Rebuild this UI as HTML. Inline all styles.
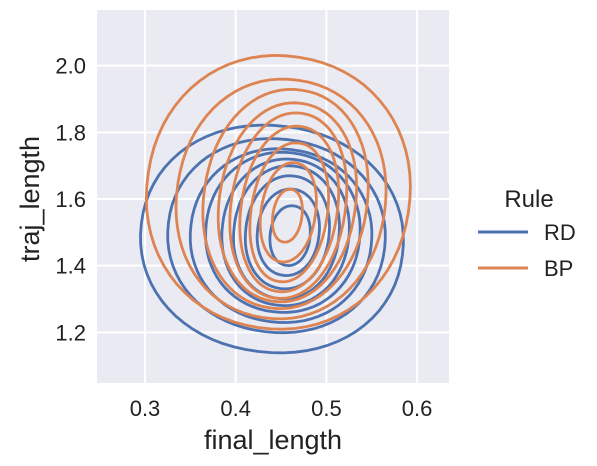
<!DOCTYPE html>
<html><head><meta charset="utf-8"><style>
body{margin:0;background:#fff;}
svg{display:block;font-family:"Liberation Sans","DejaVu Sans",sans-serif;}
</style></head><body>
<svg id="chart" width="597" height="466">
<rect x="97" y="10" width="352" height="373" fill="#eaeaf2"/>
<g id="grid"></g>
<g id="contours"></g>
<g id="ticks"></g>
<text x="273" y="449" font-size="27" text-anchor="middle" fill="#222">final_length</text>
<text x="0" y="0" font-size="27" text-anchor="middle" fill="#222" transform="translate(39,199) rotate(-90)">traj_length</text>
<g>
<text x="529" y="207" font-size="24" text-anchor="middle" fill="#222">Rule</text>
<g><line x1="478" y1="232" x2="528" y2="232" stroke="#4c72b0" stroke-width="3"/><text x="544" y="240" font-size="22" fill="#222">RD</text></g>
<g><line x1="478" y1="268" x2="528" y2="268" stroke="#dd8452" stroke-width="3"/><text x="544" y="276" font-size="22" fill="#222">BP</text></g>
</g>
</svg>
<script>
const xTicks=[0.3,0.4,0.5,0.6];
const yTicks=[1.2,1.4,1.6,1.8,2.0];
const rdLevels=[[0.44,1.48,0.145,0.34],[0.445,1.49,0.12,0.29],[0.45,1.49,0.1,0.26],[0.452,1.5,0.085,0.24],[0.455,1.5,0.07,0.22],[0.456,1.5,0.058,0.2],[0.457,1.5,0.046,0.17],[0.458,1.5,0.034,0.13],[0.46,1.49,0.022,0.09]];
const bpLevels=[[0.447,1.62,0.145,0.41],[0.45,1.6,0.115,0.36],[0.455,1.6,0.09,0.33],[0.457,1.59,0.075,0.3],[0.458,1.58,0.063,0.28],[0.459,1.57,0.053,0.25],[0.459,1.56,0.042,0.21],[0.458,1.56,0.03,0.15],[0.457,1.55,0.016,0.08]];
const NS="http://www.w3.org/2000/svg";
function sx(v){return 145+(v-0.3)*907;}
function sy(v){return 199-(v-1.6)*333.3;}
const grid=document.getElementById('grid'),ticks=document.getElementById('ticks'),cont=document.getElementById('contours');
xTicks.forEach(t=>{
 const l=document.createElementNS(NS,'line');
 
 
 l.setAttribute('x1',sx(t));l.setAttribute('x2',sx(t));l.setAttribute('y1',10);l.setAttribute('y2',383);
 l.setAttribute('stroke','#fff');l.setAttribute('stroke-width','2');grid.appendChild(l);
 const tx=document.createElementNS(NS,'text');
 
 
 tx.setAttribute('x',sx(t));tx.setAttribute('y',416);tx.setAttribute('font-size','22');tx.setAttribute('text-anchor','middle');tx.setAttribute('fill','#222');
 tx.textContent=t.toFixed(1);ticks.appendChild(tx);
});
yTicks.forEach(t=>{
 const l=document.createElementNS(NS,'line');
 
 
 l.setAttribute('y1',sy(t));l.setAttribute('y2',sy(t));l.setAttribute('x1',97);l.setAttribute('x2',449);
 l.setAttribute('stroke','#fff');l.setAttribute('stroke-width','2');grid.appendChild(l);
 const tx=document.createElementNS(NS,'text');
 
 
 tx.setAttribute('x',86);tx.setAttribute('y',sy(t)+8);tx.setAttribute('font-size','22');tx.setAttribute('text-anchor','end');tx.setAttribute('fill','#222');
 tx.textContent=t.toFixed(1);ticks.appendChild(tx);
});
function drawLevels(levels,color,name,tilt){
 levels.forEach(lv=>{
  let d='';
  const cx=sx(lv[0]),cy=sy(lv[1]);
  const ca=Math.cos(tilt),sa=Math.sin(tilt);
  for(let i=0;i<=72;i++){
   const a=i/72*2*Math.PI,c=Math.cos(a),s=Math.sin(a);
   const dx=sx(lv[0]+lv[2]*Math.sign(c)*Math.pow(Math.abs(c),0.95))-cx;
   const dy=sy(lv[1]+lv[3]*Math.sign(s)*Math.pow(Math.abs(s),0.95))-cy;
   const px=cx+dx*ca-dy*sa,py=cy+dx*sa+dy*ca;
   d+=(i?'L':'M')+px.toFixed(1)+','+py.toFixed(1);
  }
  const p=document.createElementNS(NS,'path');
  
  
  p.setAttribute('d',d+'Z');p.setAttribute('fill','none');p.setAttribute('stroke',color);p.setAttribute('stroke-width','2.8');
  cont.appendChild(p);
 });
}
drawLevels(rdLevels,'#4c72b0','rd-contour',0.12);
drawLevels(bpLevels,'#dd8452','bp-contour',0.15);
</script>
</body></html>
